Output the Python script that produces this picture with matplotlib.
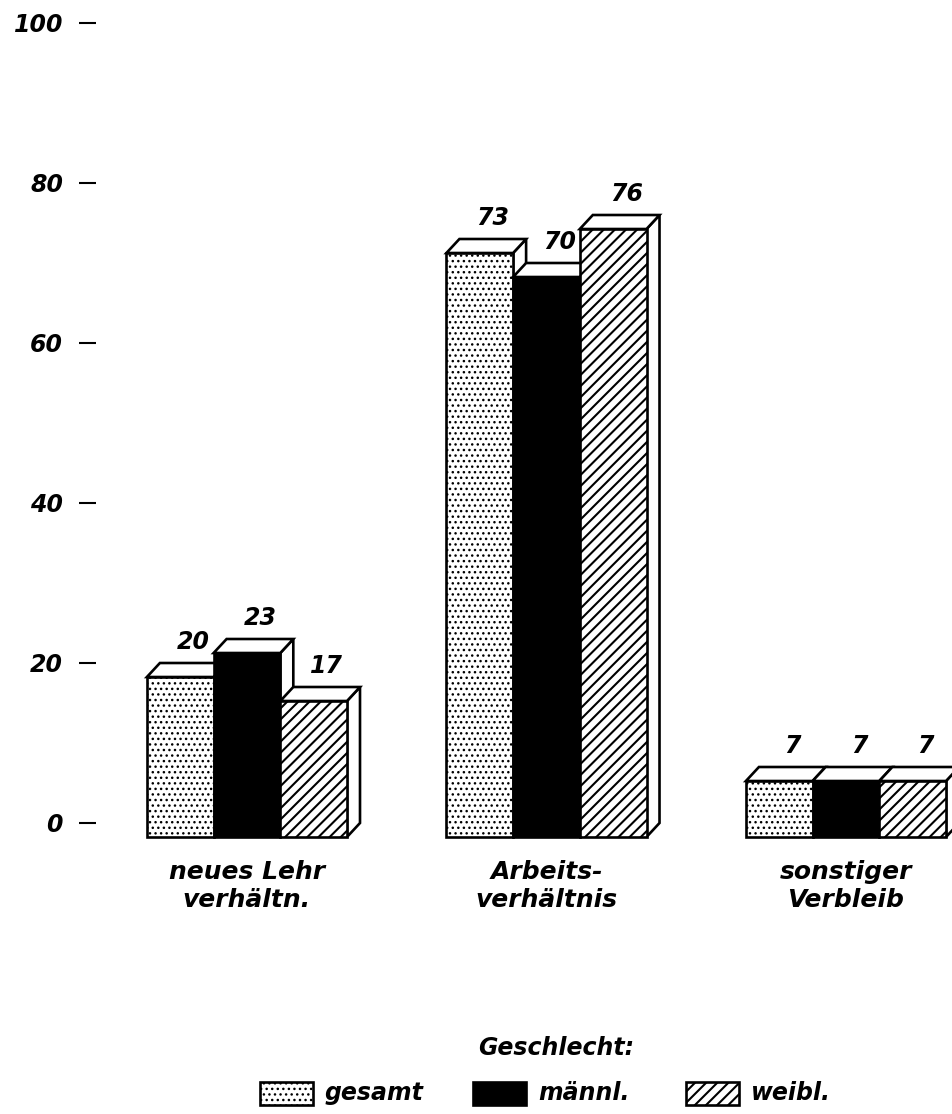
import numpy as np
import matplotlib
matplotlib.use("Agg")
import matplotlib.pyplot as plt
from matplotlib.patches import Polygon, Rectangle

plt.rcParams["font.family"] = "DejaVu Sans"
plt.rcParams["font.weight"] = "bold"
plt.rcParams["font.style"] = "italic"
plt.rcParams["hatch.linewidth"] = 1.5
plt.rcParams["hatch.color"] = "black"

#%% Data
categories = ["neues Lehr\nverhältn.", "Arbeits-\nverhältnis", "sonstiger\nVerbleib"]
series = ["gesamt", "männl.", "weibl."]
gesamt = [20, 73, 7]
maennl = [23, 70, 7]
weibl = [17, 76, 7]
yticks = [0, 20, 40, 60, 80, 100]

values = [gesamt, maennl, weibl]
styles = [dict(facecolor="white", hatch="..."),
          dict(facecolor="black", hatch=None),
          dict(facecolor="white", hatch="///")]
hatch_lw = [1.0, 1.5, 1.5]

#%% Figure
W, H = 952, 1114
fig = plt.figure(figsize=(W / 100, H / 100), dpi=100)
ax = fig.add_axes([96 / W, 1 - 850 / H, 1 - 96 / W, 827 / H])
ax.set_xlim(-0.504, 2.354)
ax.set_ylim(-3.375, 100)

width = 0.2227     # bar width in group units
dx, dy = 0.0434, 1.75   # 3d depth offsets (x in group units, y in data units)
lw = 1.9


def hatched(patch, j):
    # thinner pen for the dot pattern
    if hasattr(patch, "set_hatch_linewidth"):
        patch.set_hatch_linewidth(hatch_lw[j])
    return patch


def box(ax, x0, h, j, z):
    # back face runs 0..h, front face is shifted down/left by the depth
    with plt.rc_context({"hatch.linewidth": hatch_lw[j]}):
        front = hatched(Rectangle((x0, -dy), width, h, edgecolor="black", linewidth=lw,
                                  zorder=z, **styles[j]), j)
    top = Polygon([(x0, h - dy), (x0 + width, h - dy), (x0 + width + dx, h), (x0 + dx, h)],
                  closed=True, facecolor="white", edgecolor="black", linewidth=lw, zorder=z)
    side = Polygon([(x0 + width, -dy), (x0 + width + dx, 0), (x0 + width + dx, h), (x0 + width, h - dy)],
                   closed=True, facecolor="white", edgecolor="black", linewidth=lw, zorder=z)
    for p in (side, top, front):
        ax.add_patch(p)


z = 2
for i, cat in enumerate(categories):
    for j in range(len(series)):
        v = values[j][i]
        x0 = i + (j - 1.5) * width
        box(ax, x0, v, j, z)
        z += 1
        ax.text(x0 + width / 2 + dx, v + 2.6, str(v), ha="center", va="center",
                fontsize=17, zorder=50)
    ax.text(i, -7.9, cat, ha="center", va="center", fontsize=18, linespacing=1.2)

ax.set_yticks(yticks)
ax.set_yticklabels([str(t) for t in yticks])
ax.tick_params(axis="y", length=12.2, width=1.5, pad=11.5, labelsize=17, direction="out")
ax.set_xticks([])
for s in ax.spines.values():
    s.set_visible(False)

#%% Legend
fig.text(556 / W, 1 - 1048 / H, "Geschlecht:", ha="center", va="center", fontsize=17)
leg_x = [260, 473, 686]
for j, name in enumerate(series):
    with plt.rc_context({"hatch.linewidth": hatch_lw[j]}):
        r = hatched(Rectangle((leg_x[j] / W, 1 - 1105 / H), 53 / W, 23 / H,
                              transform=fig.transFigure, edgecolor="black",
                              linewidth=lw, **styles[j]), j)
    fig.add_artist(r)
    fig.text((leg_x[j] + 65) / W, 1 - 1093 / H, name, ha="left", va="center", fontsize=17)

fig.savefig("out.png", dpi=100, facecolor="white")
